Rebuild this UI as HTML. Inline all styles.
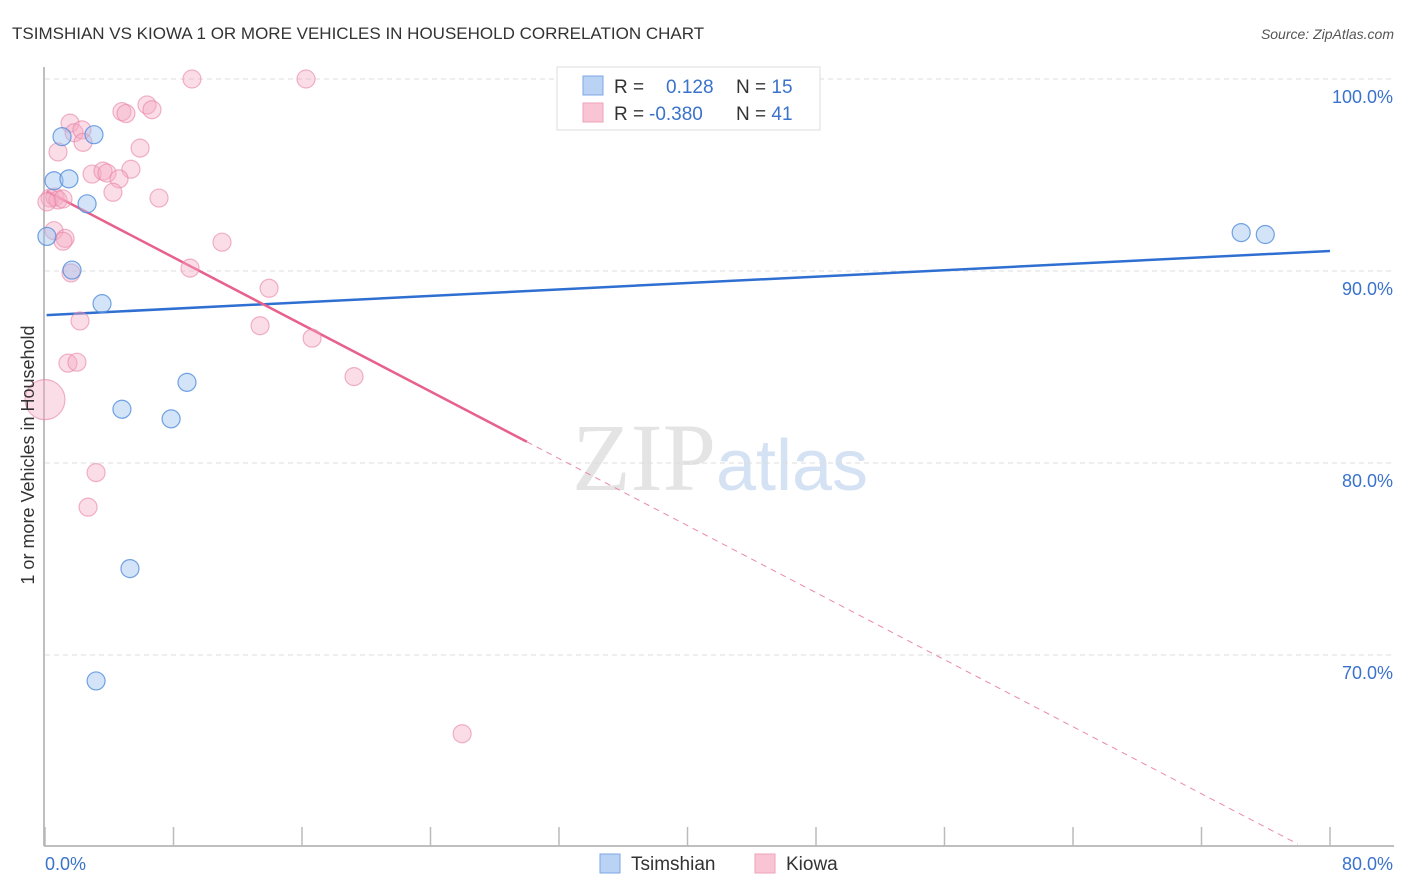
<!DOCTYPE html>
<html><head><meta charset="utf-8"><style>
body{margin:0;background:#fff;font-family:"Liberation Sans",sans-serif;}
svg{display:block}
</style></head><body>
<svg id="chart" width="1406" height="892" xmlns="http://www.w3.org/2000/svg">
<text x="12" y="39" font-size="17" fill="#333">TSIMSHIAN VS KIOWA 1 OR MORE VEHICLES IN HOUSEHOLD CORRELATION CHART</text>
<text x="1394" y="39" font-size="14" fill="#555" font-style="italic" text-anchor="end">Source: ZipAtlas.com</text>
<text x="720" y="490" font-size="96" fill="#e4e4e4" text-anchor="middle" font-family="Liberation Serif, serif">ZIP<tspan fill="#d4e2f4" font-family="Liberation Sans, sans-serif" font-size="72">atlas</tspan></text>
<g id="grid"></g>
<g id="axes"></g>
<g id="trend"></g>
<g id="pts"></g>
<text transform="translate(34,455) rotate(-90)" font-size="18" fill="#333" text-anchor="middle">1 or more Vehicles in Household</text>
<g>
<rect x="557" y="67" width="263" height="63" fill="#fff" stroke="#ddd"/>
<rect x="583" y="76" width="20" height="19" fill="#bad3f5" stroke="#7ea7e3"/>
<rect x="583" y="103" width="20" height="19" fill="#f9c5d4" stroke="#eda3b9"/>
<text x="614" y="93" font-size="19" fill="#333">R = <tspan x="666" fill="#3a72cc">0.128</tspan><tspan x="736" fill="#333">N = </tspan><tspan fill="#3a72cc">15</tspan></text>
<text x="614" y="120" font-size="19" fill="#333">R = <tspan x="649" fill="#3a72cc">-0.380</tspan><tspan x="736" fill="#333">N = </tspan><tspan fill="#3a72cc">41</tspan></text>
</g>
<g>
<rect x="600" y="854" width="20" height="19" fill="#bad3f5" stroke="#7ea7e3"/>
<text x="631" y="870" font-size="19" fill="#333">Tsimshian</text>
<rect x="755" y="854" width="20" height="19" fill="#f9c5d4" stroke="#eda3b9"/>
<text x="786" y="870" font-size="19" fill="#333">Kiowa</text>
</g>
</svg>
<script>
const yTicks=[100,90,80,70];
const yTickLabels=["100.0%","90.0%","80.0%","70.0%"];
const xTickLabels=["0.0%","80.0%"];
const tsimX=[0.12,1.06,3.05,0.56,1.49,2.62,1.68,3.55,8.84,4.79,7.85,5.29,3.18,74.47,75.97];
const tsimY=[91.8,97.0,97.1,94.7,94.8,93.5,90.05,88.3,84.2,82.8,82.3,74.5,68.65,92.0,91.9];
const kiowaX=[9.15,16.25,1.56,0.81,1.81,2.30,2.37,4.79,5.04,6.35,6.66,5.92,5.35,2.93,3.61,3.86,4.61,4.23,7.10,0.31,0.62,0.81,1.12,0.12,0.56,1.25,1.12,11.02,9.03,1.62,13.95,2.18,13.39,16.63,1.43,1.99,19.24,0,3.18,2.68,25.97];
const kiowaY=[100,100,97.7,96.2,97.2,97.35,96.7,98.3,98.2,98.65,98.4,96.4,95.3,95.05,95.2,95.1,94.8,94.1,93.8,93.8,93.85,93.7,93.75,93.6,92.1,91.7,91.55,91.5,90.15,89.9,89.1,87.4,87.15,86.5,85.2,85.25,84.5,83.3,79.5,77.7,65.9];
const kiowaR=[9,9,9,9,9,9,9,9,9,9,9,9,9,9,9,9,9,9,9,9,9,9,9,9,9,9,9,9,9,9,9,9,9,9,9,9,9,20,9,9,9];
const tsimTrend=[87.7,0.0418];
const kiowaTrend=[94.2,-0.4365];
const ns="http://www.w3.org/2000/svg";
const X=v=>45+v*1285/80, Y=v=>79+(100-v)*19.2;
function mk(t,a,p){const e=document.createElementNS(ns,t);for(const k in a)e.setAttribute(k,a[k]);p.appendChild(e);return e;}
const grid=document.getElementById('grid'),axes=document.getElementById('axes'),trend=document.getElementById('trend'),pts=document.getElementById('pts');
yTicks.forEach((t,i)=>{
 const l=mk('line',{x1:45,x2:1394,y1:Y(t),y2:Y(t),stroke:'#ddd','stroke-dasharray':'5,4'},grid);
 
 
 const tx=mk('text',{x:1393,y:Y(t)+24,'font-size':18,fill:'#3a72cc','text-anchor':'end'},axes);
 tx.textContent=yTickLabels[i];
 
 
});
const ya=mk('line',{x1:44,x2:44,y1:67,y2:846,stroke:'#aaa','stroke-width':1.5},axes);


const xa=mk('line',{x1:44,x2:1394,y1:846,y2:846,stroke:'#aaa','stroke-width':1.5},axes);


for(let i=0;i<=10;i++){const t=mk('line',{x1:X(i*8),x2:X(i*8),y1:827,y2:846,stroke:'#bbb','stroke-width':1.5},axes);
 
 }
[[0,45,'start'],[80,1393,'end']].forEach((d,i)=>{const t=mk('text',{x:d[1],y:870,'font-size':18,fill:'#3a72cc','text-anchor':d[2]},axes);t.textContent=xTickLabels[i];
 
 });
const bl=mk('line',{x1:X(0.1),y1:Y(tsimTrend[0]+tsimTrend[1]*0.1),x2:X(80),y2:Y(tsimTrend[0]+tsimTrend[1]*80),stroke:'#2f6fd1','stroke-width':2.5},trend);


const pl=mk('line',{x1:X(0.1),y1:Y(kiowaTrend[0]+kiowaTrend[1]*0.1),x2:X(30),y2:Y(kiowaTrend[0]+kiowaTrend[1]*30),stroke:'#e8608c','stroke-width':2.5},trend);


const pd=mk('line',{x1:X(30),y1:Y(kiowaTrend[0]+kiowaTrend[1]*30),x2:X(78),y2:Y(kiowaTrend[0]+kiowaTrend[1]*78),stroke:'#eb89a8','stroke-width':1,'stroke-dasharray':'6,5'},trend);


kiowaX.forEach((x,i)=>{const c=mk('circle',{cx:X(x),cy:Y(kiowaY[i]),r:kiowaR[i],fill:'rgba(246,170,195,0.4)',stroke:'rgba(232,130,165,0.6)','stroke-width':1.2},pts);
 
 });
tsimX.forEach((x,i)=>{const c=mk('circle',{cx:X(x),cy:Y(tsimY[i]),r:9,fill:'rgba(160,195,240,0.45)',stroke:'rgba(80,140,220,0.8)','stroke-width':1.2},pts);
 
 });
</script>
</body></html>
